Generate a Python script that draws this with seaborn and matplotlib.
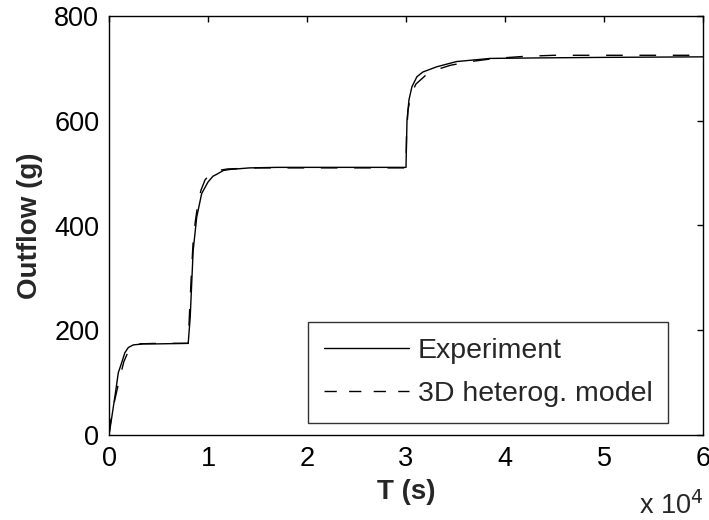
import numpy as np
import pandas as pd
import matplotlib
matplotlib.use("Agg")
import matplotlib.pyplot as plt
from matplotlib.ticker import FuncFormatter
import seaborn as sns

# ---- data (T in units of 1e4 s, outflow in g) ----
exp_t = [0, 0.02, 0.045, 0.07, 0.094, 0.128, 0.16, 0.195, 0.245, 0.35, 0.5, 0.8,
         0.82, 0.835, 0.85, 0.886, 0.936, 1.0, 1.05, 1.09, 1.155, 1.22, 1.42, 1.7,
         2.0, 2.5, 3.0, 3.01, 3.03, 3.06, 3.11, 3.17, 3.31, 3.51, 3.85, 4.35, 5.0, 6.0]
exp_v = [0, 24, 55, 87, 119, 138, 157, 167, 172, 174, 174, 175,
         224, 288, 352, 416, 461, 483, 494, 498, 505, 507, 510, 511,
         511, 511, 511, 600, 640, 665, 684, 693, 703, 713, 719, 720, 721, 722]

mod_t = [0, 0.02, 0.05, 0.08, 0.11, 0.15, 0.2, 0.25, 0.3, 0.5, 0.8,
         0.815, 0.83, 0.85, 0.87, 0.9, 0.93, 0.97, 1.02, 1.1, 1.2, 1.5, 2.0,
         3.0, 3.005, 3.02, 3.05, 3.1, 3.2, 3.3, 3.45, 3.65, 3.9, 4.2, 4.5, 6.0]
mod_v = [0, 30, 60, 85, 110, 140, 162, 171, 174, 175, 175,
         240, 300, 370, 405, 445, 468, 487, 498, 505, 508, 510, 510,
         510, 570, 620, 650, 670, 687, 697, 706, 713, 719, 723, 725, 725]

x_ticks = [0, 1, 2, 3, 4, 5, 6]
y_ticks = [0, 200, 400, 600, 800]

df_exp = pd.DataFrame({"T": np.array(exp_t) * 1e4, "Outflow": exp_v})
df_mod = pd.DataFrame({"T": np.array(mod_t) * 1e4, "Outflow": mod_v})

sns.set_style("white")
plt.rcParams["font.family"] = ["Liberation Sans", "DejaVu Sans"]

fig = plt.figure(figsize=(7.09, 5.20), dpi=100)
ax = fig.add_axes([109 / 709, 1 - 435 / 520, (703 - 109) / 709, (435 - 16) / 520])

sns.lineplot(data=df_exp, x="T", y="Outflow", ax=ax, color="black", lw=1.0,
             estimator=None, sort=False, label="Experiment")
sns.lineplot(data=df_mod, x="T", y="Outflow", ax=ax, color="black", lw=1.0,
             estimator=None, sort=False, linestyle=(0, (12, 12)),
             label="3D heterog. model")

ax.set_xlim(0, 6e4)
ax.set_ylim(0, 800)
ax.set_xticks([v * 1e4 for v in x_ticks])
ax.xaxis.set_major_formatter(FuncFormatter(lambda v, p: f"{v / 1e4:g}"))
ax.set_yticks(y_ticks)

for s in ax.spines.values():
    s.set_color("black")
    s.set_linewidth(1.0)

ax.tick_params(direction="in", top=True, right=True, length=4, width=1,
               labelsize=19.5, colors="black")
ax.tick_params(axis="x", pad=8)
ax.tick_params(axis="y", pad=7)

ax.set_xlabel("T (s)", fontsize=20, fontweight="bold", labelpad=5)
ax.set_ylabel("Outflow (g)", fontsize=20, fontweight="bold", labelpad=8)

ax.text(1.0, -0.189, r"x 10$^{4}$", transform=ax.transAxes, ha="right",
        va="baseline", fontsize=19.5)

leg = ax.legend(loc="lower right", bbox_to_anchor=((668 - 109) / 594, (435 - 423) / 419),
                fontsize=20.5, frameon=True, fancybox=False, handlelength=3.0,
                handletextpad=0.3, borderpad=0.55, labelspacing=0.62,
                borderaxespad=0)
leg.get_frame().set_edgecolor("black")
leg.get_frame().set_linewidth(1.0)
handles = leg.get_lines()
handles[0].set_linestyle("-")
handles[1].set_linestyle((0, (8.85, 8.85)))
for h in handles:
    h.set_linewidth(1.0)
    h.set_color("black")

fig.savefig("out.png", dpi=100)
